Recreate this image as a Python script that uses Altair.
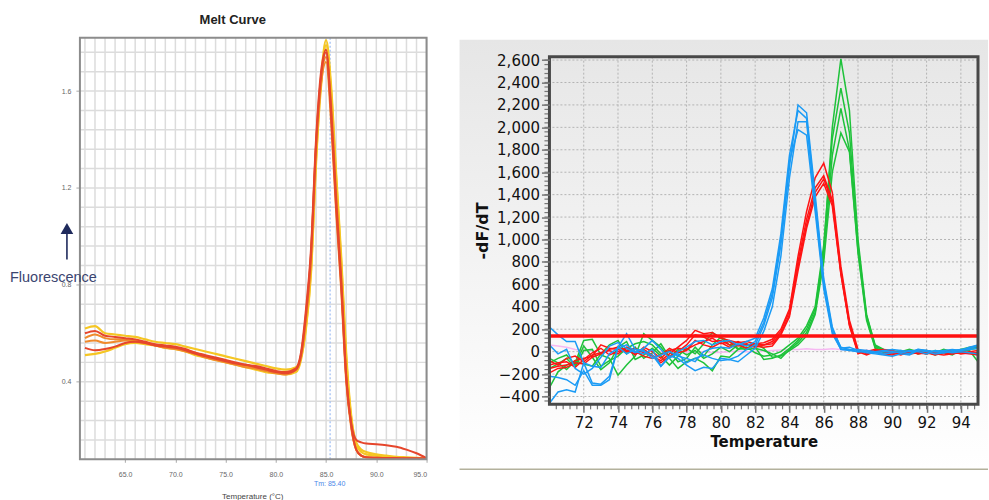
import altair as alt
import pandas as pd

# ---------------- Melt curve (left panel) ----------------
melt_temp = [61, 62, 63, 64, 65, 66, 67, 68, 69, 70, 71, 72, 73, 74, 75, 76, 77, 78, 79, 80, 81, 82,
             82.5, 83, 83.5, 84, 84.5, 85, 85.5, 86, 86.5, 87, 87.5, 88, 88.5, 89,
             90, 91, 92, 93, 94, 95]

melt_yellow_1 = [0.62, 0.63, 0.60, 0.595, 0.59, 0.585, 0.575, 0.565, 0.56, 0.555, 0.545, 0.535, 0.525, 0.515,
                 0.505, 0.495, 0.485, 0.475, 0.465, 0.455, 0.45, 0.46,
                 0.50, 0.62, 0.85, 1.30, 1.65, 1.81, 1.62, 1.26, 0.92, 0.52, 0.26, 0.14, 0.11, 0.10,
                 0.095, 0.09, 0.088, 0.086, 0.085, 0.084]
melt_yellow_2 = [0.51, 0.515, 0.525, 0.54, 0.555, 0.56, 0.555, 0.55, 0.54, 0.535, 0.525, 0.51, 0.50, 0.49,
                 0.48, 0.47, 0.46, 0.45, 0.44, 0.435, 0.43, 0.44,
                 0.49, 0.63, 0.86, 1.32, 1.62, 1.79, 1.60, 1.24, 0.90, 0.50, 0.25, 0.15, 0.12, 0.11,
                 0.10, 0.095, 0.09, 0.088, 0.086, 0.084]
melt_orange_1 = [0.58, 0.595, 0.58, 0.575, 0.575, 0.57, 0.56, 0.55, 0.545, 0.54, 0.53, 0.52, 0.505, 0.495,
                 0.485, 0.475, 0.465, 0.455, 0.445, 0.44, 0.435, 0.45,
                 0.50, 0.66, 0.90, 1.35, 1.64, 1.74, 1.55, 1.18, 0.84, 0.44, 0.22, 0.12, 0.095, 0.088,
                 0.086, 0.085, 0.085, 0.084, 0.084, 0.083]
melt_orange_2 = [0.565, 0.57, 0.56, 0.565, 0.57, 0.565, 0.56, 0.55, 0.54, 0.535, 0.525, 0.515, 0.50, 0.49,
                 0.48, 0.47, 0.46, 0.455, 0.445, 0.435, 0.43, 0.45,
                 0.51, 0.67, 0.92, 1.37, 1.63, 1.72, 1.47, 1.10, 0.78, 0.40, 0.21, 0.12, 0.095, 0.088,
                 0.086, 0.085, 0.085, 0.084, 0.084, 0.083]
melt_red_1 = [0.60, 0.61, 0.59, 0.585, 0.58, 0.575, 0.565, 0.555, 0.55, 0.545, 0.535, 0.52, 0.51, 0.50,
              0.49, 0.48, 0.47, 0.465, 0.455, 0.445, 0.44, 0.455,
              0.52, 0.70, 0.95, 1.40, 1.68, 1.77, 1.52, 1.15, 0.82, 0.42, 0.22, 0.12, 0.095, 0.088,
              0.086, 0.085, 0.085, 0.084, 0.084, 0.083]
melt_red_2 = [0.54, 0.53, 0.535, 0.545, 0.56, 0.565, 0.56, 0.55, 0.545, 0.54, 0.53, 0.515, 0.505, 0.495,
              0.485, 0.475, 0.47, 0.46, 0.45, 0.44, 0.435, 0.45,
              0.51, 0.68, 0.93, 1.38, 1.66, 1.76, 1.50, 1.12, 0.80, 0.42, 0.23, 0.16, 0.15, 0.145,
              0.142, 0.138, 0.132, 0.12, 0.105, 0.085]

melt_x_labels = [65, 70, 75, 80, 85, 90, 95]
melt_y_labels = [0.4, 0.8, 1.2, 1.6]
melt_grid_x = list(range(61, 96))
melt_grid_y = [0.16, 0.24, 0.32, 0.40, 0.48, 0.56, 0.64, 0.72, 0.80, 0.88, 0.96, 1.04,
               1.12, 1.20, 1.28, 1.36, 1.44, 1.52, 1.60, 1.68, 1.76]
TM = 85.40

# ---------------- -dF/dT derivative (right panel) ----------------
deriv_temp = [70.0, 70.5, 71.0, 71.5, 72.0, 72.5, 73.0, 73.5, 74.0, 74.5,
              75.0, 75.5, 76.0, 76.5, 77.0, 77.5, 78.0, 78.5, 79.0, 79.5,
              80.0, 80.5, 81.0, 81.5, 82.0, 82.5, 83.0, 83.5, 84.0, 84.5,
              85.0, 85.5, 86.0, 86.5, 87.0, 87.5, 88.0, 88.5, 89.0, 89.5,
              90.0, 90.5, 91.0, 91.5, 92.0, 92.5, 93.0, 93.5, 94.0, 94.5, 95.0]

blue_1 = [220, 150, 90, 90, -100, -280, -290, -220, 40, 160,
          20, 0, -30, -130, -40, -60, -120, -170, -140, -150,
          -60, -70, -40, 20, 60, 230, 480, 950, 1650, 2200,
          2130, 1400, 650, 220, 30, 40, 10, -10, -20, -30,
          -40, -20, -30, 10, 0, -20, -10, 10, 20, 30, 50]
blue_2 = [-460, -360, -340, -360, -100, -130, -140, -20, 30, 60,
          0, -20, 20, -130, -50, -20, -100, -60, -30, -60,
          -80, -70, -90, -30, 30, 180, 400, 850, 1550, 2050,
          2050, 1300, 600, 180, 20, 20, 0, 10, -10, -20,
          -10, 0, -20, 20, 10, 0, -10, 0, 10, 20, 30]
blue_3 = [-220, -230, -250, -300, -170, -300, -300, -250, 40, -20,
          20, 10, -60, -30, 0, -40, -60, -90, 0, 30,
          40, 30, 70, 50, 90, 260, 520, 1000, 1700, 1980,
          1930, 1250, 560, 160, 20, 10, 0, 0, -10, 0,
          0, -10, 10, 0, -20, 10, 0, -10, 0, -10, -20]
blue_4 = [60, -20, 20, -150, -200, -150, -50, 50, 80, 30,
          -10, 30, 100, 20, -60, 0, 40, 90, 100, 60,
          90, 100, 60, 90, 120, 300, 560, 1050, 1750, 2150,
          2080, 1350, 620, 200, 40, 20, 20, 10, 0, 10,
          20, 10, 0, 20, 10, 0, 10, 20, 10, 40, 60]

red_1 = [-150, -130, -120, -80, -60, -40, 60, 30, 20, 0,
         30, -10, -40, -80, -20, 40, 100, 190, 160, 170,
         120, 100, 80, 90, 70, 80, 110, 200, 380, 850,
         1250, 1550, 1680, 1420, 760, 280, 20, -20, 10, 20,
         10, -20, -10, 0, 10, -10, 0, 10, -10, -20, -30]
red_2 = [-190, -150, -140, -100, -110, -50, -20, 20, 40, 10,
         -20, 20, -30, -100, -40, 0, 60, 150, 130, 90,
         100, 60, 90, 60, 70, 60, 90, 180, 360, 800,
         1180, 1460, 1570, 1350, 720, 250, 0, -30, 0, 10,
         -10, -30, 0, -10, -20, 0, -10, -20, 0, -10, -20]
red_3 = [-120, -100, -90, -140, -70, -10, 30, -30, 0, 30,
         -30, 40, 0, -60, 10, 30, 20, 60, 90, 120,
         70, 90, 50, 70, 40, 60, 70, 160, 330, 760,
         1130, 1420, 1540, 1330, 700, 240, -10, 0, 20, 0,
         -20, -10, 10, -20, -10, -30, -10, 0, -20, -10, -10]
red_4 = [-80, -120, -60, -40, -90, -30, -10, 10, -20, 40,
         0, -40, -60, -30, 30, -10, 10, 100, 60, 40,
         80, 40, 60, 30, 50, 40, 50, 150, 310, 720,
         1100, 1380, 1500, 1300, 690, 230, -20, 10, 0, -20,
         -30, 0, -20, -10, 0, -20, -30, -20, -10, 0, 10]

green_1 = [-320, -180, -120, -100, 100, 110, -30, -60, -210, -120,
           -40, 160, 100, 40, -60, -150, -90, -60, -100, -170,
           -40, -50, 20, 70, 40, -70, -60, -30, 30, 100,
           200, 380, 900, 2000, 2610, 2150, 1000, 330, 60, 20,
           0, -10, 10, -20, 0, -30, 10, 0, 20, 10, -90]
green_2 = [-150, -110, -60, -140, 10, 20, -130, -80, -40, 30,
           70, 90, 60, -20, 10, -90, -60, 40, -40, 60,
           130, 90, 20, 40, -10, -40, -30, 0, 60, 120,
           230, 400, 950, 1900, 2350, 1950, 950, 320, 50, 10,
           -10, 0, 20, 0, -20, 10, -10, -30, 20, 40, 50]
green_3 = [-100, -60, -30, -120, 50, -50, -160, -100, 40, 90,
           -70, -30, 30, -40, -120, -40, 30, -20, 70, 170,
           120, 60, 30, 20, 30, 10, -20, -60, 20, 80,
           170, 350, 850, 1750, 2170, 1800, 900, 300, 40, 0,
           10, -20, 0, 10, 0, -20, 0, 10, 0, 20, 30]
green_4 = [-60, -100, -160, -80, -110, -130, -20, 60, 100, -20,
           40, -60, -10, 70, -50, 20, -30, 10, -60, -20,
           40, 0, 60, 30, 70, 30, -50, -40, 10, 60,
           140, 330, 800, 1600, 1950, 1780, 880, 280, 30, -10,
           0, 10, -10, 0, 10, -10, 20, 0, 10, 30, 40]

pink_ntc = [60, 50, 40, 20, 10, 5, 0, 0, 5, 0,
            -5, 0, 5, 0, -5, -10, 0, -5, 0, -10,
            -5, 0, 5, 0, 0, 5, 10, 15, 20, 20,
            25, 20, 20, 25, 20, 15, 10, 10, 10, 5,
            10, 5, 0, 5, 0, 0, -5, -10, -15, -20, -30]

threshold = 140
deriv_x_labels = list(range(72, 95, 2))
deriv_y_labels = list(range(-400, 2601, 200))
deriv_minor_x = [round(70 + 0.4 * k, 1) for k in range(1, 63)]
deriv_minor_y = list(range(-440, 2601, 40))


def long_table(temps, series):
    rows = []
    for name, vals in series.items():
        for t, v in zip(temps, vals):
            rows.append({"T": t, "v": v, "s": name})
    return pd.DataFrame(rows)


one = pd.DataFrame({"k": [0]})

# ================= left panel =================
LW, LH = 347, 422
lx_scale = alt.Scale(domain=[60.5, 95], nice=False)
ly_scale = alt.Scale(domain=[0.08, 1.82], nice=False)
lx_axis = alt.Axis(values=melt_x_labels, format=".1f", title=None, grid=False, domain=False,
                   tickSize=3, tickColor="#aaaaaa", labelFontSize=7, labelColor="#666666",
                   labelFont="Liberation Sans", labelPadding=8)
ly_axis = alt.Axis(values=melt_y_labels, format=".1f", title=None, grid=False, domain=False,
                   tickSize=4, tickColor="#aaaaaa", labelFontSize=7, labelColor="#666666",
                   labelFont="Liberation Sans", labelPadding=5)
LX = alt.X("T:Q", scale=lx_scale, axis=lx_axis)
LY = alt.Y("v:Q", scale=ly_scale, axis=ly_axis)

lgrid_v = alt.Chart(pd.DataFrame({"T": melt_grid_x})).mark_rule(
    color="#dcdcdc", strokeWidth=1.5).encode(x=LX)
lgrid_h = alt.Chart(pd.DataFrame({"v": melt_grid_y})).mark_rule(
    color="#dcdcdc", strokeWidth=1.5).encode(y=LY)
tm_line = alt.Chart(pd.DataFrame({"T": [TM]})).mark_rule(
    color="#9cbcf2", strokeWidth=1.2, strokeDash=[2, 2]).encode(x=LX)


def melt_layer(series, color, width):
    return alt.Chart(long_table(melt_temp, series)).mark_line(
        color=color, strokeWidth=width, interpolate="monotone").encode(x=LX, y=LY, detail="s:N")


l_yellow = melt_layer({"y1": melt_yellow_1, "y2": melt_yellow_2}, "#f5c623", 2.2)
l_orange = melt_layer({"o1": melt_orange_1, "o2": melt_orange_2}, "#f08a2c", 2.0)
l_red = melt_layer({"r1": melt_red_1, "r2": melt_red_2}, "#e6462c", 2.0)

l_frame = alt.Chart(one).mark_rect(filled=False, stroke="#8c8c8c", strokeWidth=2).encode(
    x=alt.value(0), x2=alt.value(LW), y=alt.value(0), y2=alt.value(LH))


def label(txt, x, y, **style):
    return alt.Chart(pd.DataFrame({"t": [txt]})).mark_text(**style).encode(
        x=alt.value(x), y=alt.value(y), text="t:N")


l_title = label("Melt Curve", 153, -18, font="Liberation Sans", fontSize=13, fontWeight="bold",
                color="#222222", baseline="middle", align="center")
l_fluor = label("Fluorescence", -70, 241, font="Liberation Sans", fontSize=14.5, color="#3b4570",
                baseline="middle", align="left")
l_tm = label(f"Tm: {TM:.2f}", 250, 447, font="Liberation Sans", fontSize=7, color="#4a86e8",
             baseline="middle", align="center")
l_xtitle = label("Temperature (°C)", 173, 460, font="Liberation Sans", fontSize=8, color="#444444",
                 baseline="middle", align="center")
arrow_shaft = alt.Chart(one).mark_rule(color="#1f2a5c", strokeWidth=1.6).encode(
    x=alt.value(-13), y=alt.value(196), x2=alt.value(-13), y2=alt.value(222))
arrow_head = alt.Chart(one).mark_point(shape="triangle-up", filled=True, size=160, color="#1f2a5c",
                                       opacity=1).encode(x=alt.value(-13), y=alt.value(191))

left = alt.layer(lgrid_v, lgrid_h, tm_line, l_yellow, l_orange, l_red, l_frame,
                 l_title, l_fluor, l_tm, l_xtitle, arrow_shaft, arrow_head).properties(width=LW, height=LH)

# ================= right panel =================
RW, RH = 429, 367
TOP = 19
rx_scale = alt.Scale(domain=[70, 95], nice=False)
ry_scale = alt.Scale(domain=[-470, 2630], range=[RH, TOP], nice=False, zero=False)
rx_axis = alt.Axis(values=deriv_x_labels, format="d", title="Temperature", grid=False, domain=False,
                   tickSize=8, tickColor="#777777", tickWidth=1.5, labelFontSize=15,
                   labelColor="#111111", labelFont="DejaVu Sans", labelPadding=3,
                   titleFont="DejaVu Sans", titleFontSize=15, titleFontWeight="bold",
                   titleColor="#111111", titlePadding=4, zindex=1)
ry_axis = alt.Axis(values=deriv_y_labels, format=",d", title="-dF/dT", grid=False, domain=False,
                   tickSize=8, tickColor="#777777", tickWidth=1.5, labelFontSize=15,
                   labelColor="#111111", labelFont="DejaVu Sans", labelPadding=2,
                   titleFont="DejaVu Sans", titleFontSize=16, titleFontWeight="bold",
                   titleColor="#111111", titlePadding=6, zindex=1)
RX = alt.X("T:Q", scale=rx_scale, axis=rx_axis)
RY = alt.Y("v:Q", scale=ry_scale, axis=ry_axis)

panel_fill = alt.LinearGradient(
    gradient="linear", x1=0, x2=0, y1=0, y2=1,
    stops=[alt.GradientStop(color="#e6e6e6", offset=0),
           alt.GradientStop(color="#f4f4f4", offset=0.55),
           alt.GradientStop(color="#ffffff", offset=1)])
r_bg = alt.Chart(one).mark_rect(fill=panel_fill).encode(
    x=alt.value(-90), x2=alt.value(RW + 10), y=alt.value(2), y2=alt.value(432))
r_sep = alt.Chart(one).mark_rule(color="#b3b19c", strokeWidth=1.5).encode(
    x=alt.value(-90), x2=alt.value(RW + 10), y=alt.value(432))

rgrid_v = alt.Chart(pd.DataFrame({"T": deriv_x_labels})).mark_rule(
    color="#b4b4b4", strokeWidth=1, strokeDash=[2, 2]).encode(x=RX, y=alt.value(TOP), y2=alt.value(RH))
rgrid_h = alt.Chart(pd.DataFrame({"v": deriv_y_labels})).mark_rule(
    color="#b4b4b4", strokeWidth=1, strokeDash=[2, 2]).encode(y=RY)


def deriv_layer(series, color, width=1.5):
    return alt.Chart(long_table(deriv_temp, series)).mark_line(
        color=color, strokeWidth=width).encode(x=RX, y=RY, detail="s:N")


r_pink = deriv_layer({"ntc": pink_ntc}, "#f6b8f2", 1.5)
r_green = deriv_layer({"g1": green_1, "g2": green_2, "g3": green_3, "g4": green_4}, "#1ec23a")
r_red = deriv_layer({"r1": red_1, "r2": red_2, "r3": red_3, "r4": red_4}, "#ff1414")
r_blue = deriv_layer({"b1": blue_1, "b2": blue_2, "b3": blue_3, "b4": blue_4}, "#1b9bf5")

r_thresh = alt.Chart(pd.DataFrame({"v": [threshold]})).mark_rule(
    color="#ff1010", strokeWidth=3.5).encode(y=RY)

minor_x = alt.Chart(pd.DataFrame({"T": deriv_minor_x})).mark_rule(
    color="#777777", strokeWidth=1.2).encode(x=RX, y=alt.value(RH), y2=alt.value(RH + 5))
minor_y = alt.Chart(pd.DataFrame({"v": deriv_minor_y})).mark_rule(
    color="#777777", strokeWidth=1.2).encode(y=RY, x=alt.value(-5), x2=alt.value(0))

r_frame = alt.Chart(one).mark_rect(filled=False, stroke="#484848", strokeWidth=3).encode(
    x=alt.value(0), x2=alt.value(RW), y=alt.value(TOP), y2=alt.value(RH))

right = alt.layer(r_bg, r_sep, rgrid_v, rgrid_h, r_pink, r_green, r_red, r_blue, r_thresh,
                  minor_x, minor_y, r_frame).properties(width=RW, height=RH)

chart = alt.hconcat(left, right, spacing=123, bounds="flush").resolve_scale(
    x="independent", y="independent").properties(
    padding={"left": 10, "top": 13.5, "right": 0, "bottom": 0},
    background="#ffffff").configure_view(stroke=None)

chart.save("out.html", embed_options={"renderer": "svg", "actions": False})
